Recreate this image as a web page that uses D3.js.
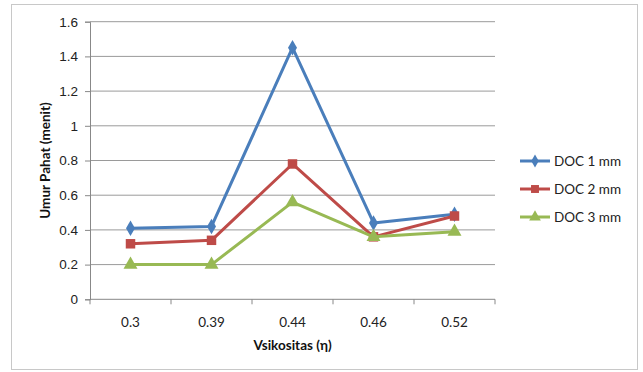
<!DOCTYPE html>
<html>
<head>
<meta charset="utf-8">
<script src="https://cdn.jsdelivr.net/npm/d3@7"></script>
<style>
  body { margin: 0; background: #fff; }
  svg { font-family: Lato, "Open Sans", sans-serif; }
</style>
</head>
<body>
<div id="chart"></div>
<script>
// viscosity categories and tool life per depth of cut
const categories = ["0.3", "0.39", "0.44", "0.46", "0.52"];
const doc1 = [0.41, 0.42, 1.45, 0.44, 0.49];
const doc2 = [0.32, 0.34, 0.78, 0.36, 0.48];
const doc3 = [0.20, 0.20, 0.56, 0.36, 0.39];
const seriesNames = ["DOC 1 mm", "DOC 2 mm", "DOC 3 mm"];
const yTicks = [0, 0.2, 0.4, 0.6, 0.8, 1, 1.2, 1.4, 1.6];

const series = [
  {name: seriesNames[0], values: doc1, color: "#4a7ebb", symbol: d3.symbolDiamond, size: 70},
  {name: seriesNames[1], values: doc2, color: "#be4b48", symbol: d3.symbolSquare, size: 90},
  {name: seriesNames[2], values: doc3, color: "#98b954", symbol: d3.symbolTriangle, size: 85}
];

const W = 643, H = 372;
const fs = 13.5;
const margin = {top: 21.7, left: 90, right: 148, bottom: 72.7};
const width = W - margin.left - margin.right;
const height = H - margin.top - margin.bottom;

const svg = d3.select("#chart").append("svg")
    .attr("width", W).attr("height", H);

// outer chart frame
svg.append("rect")
    .attr("x", 11.5).attr("y", 4.5)
    .attr("width", 626).attr("height", 365)
    .attr("fill", "#fff").attr("stroke", "#c8c8c8");

const g = svg.append("g")
    .attr("transform", "translate(" + margin.left + "," + margin.top + ")");

const x = d3.scaleBand().domain(categories).range([0, width]);
const y = d3.scaleLinear().domain([0, 1.6]).range([height, 0]);

// gridlines
g.append("g").selectAll("line")
  .data(yTicks.slice(1))
  .join("line")
    .attr("x1", 0).attr("x2", width)
    .attr("y1", d => y(d)).attr("y2", d => y(d))
    .attr("stroke", "#9a9a9a").attr("stroke-width", 1);

// y axis
const yAxis = g.append("g")
    .call(d3.axisLeft(y).tickValues(yTicks).tickSize(5).tickPadding(7).tickFormat(d3.format("")));
yAxis.select(".domain").attr("stroke", "#888");
yAxis.selectAll(".tick line").attr("stroke", "#888");
yAxis.selectAll("text").attr("font-size", fs).attr("fill", "#222").attr("font-family", null);

// x axis, ticks on category boundaries
const xAxisG = g.append("g").attr("transform", "translate(0," + height + ")");
xAxisG.append("line").attr("x1", 0).attr("x2", width).attr("stroke", "#888");
xAxisG.selectAll("line.tk")
  .data(categories.map(c => x(c)).concat([width]))
  .join("line").attr("class", "tk")
    .attr("x1", d => d).attr("x2", d => d)
    .attr("y1", 0).attr("y2", 5)
    .attr("stroke", "#888");
xAxisG.selectAll("text")
  .data(categories)
  .join("text")
    .attr("x", d => x(d) + x.bandwidth() / 2)
    .attr("y", 27.5)
    .attr("text-anchor", "middle")
    .attr("font-size", fs).attr("fill", "#222")
    .text(d => d);

// axis titles
svg.append("text")
    .attr("x", margin.left + width / 2).attr("y", 350)
    .attr("text-anchor", "middle")
    .attr("font-size", fs).attr("font-weight", "bold").attr("fill", "#111")
    .text("Vsikositas (η)");
svg.append("text")
    .attr("transform", "translate(50," + (margin.top + height / 2) + ") rotate(-90)")
    .attr("text-anchor", "middle")
    .attr("font-size", fs).attr("font-weight", "bold").attr("fill", "#111")
    .text("Umur Pahat (menit)");

// lines and markers
const line = d3.line()
    .x((d, i) => x(categories[i]) + x.bandwidth() / 2)
    .y(d => y(d));

series.forEach(function(s) {
  g.append("path")
      .datum(s.values)
      .attr("fill", "none")
      .attr("stroke", s.color)
      .attr("stroke-width", 3)
      .attr("stroke-linejoin", "round")
      .attr("d", line);
  g.append("g").selectAll("path")
    .data(s.values)
    .join("path")
      .attr("transform", (d, i) => "translate(" + (x(categories[i]) + x.bandwidth() / 2) + "," + y(d) + ")")
      .attr("d", d3.symbol().type(s.symbol).size(s.size))
      .attr("fill", s.color);
});

// legend
const legend = svg.append("g").attr("transform", "translate(520,161)");
series.forEach(function(s, i) {
  const row = legend.append("g").attr("transform", "translate(0," + (i * 28) + ")");
  row.append("line").attr("x1", 0).attr("x2", 30)
      .attr("stroke", s.color).attr("stroke-width", 3);
  row.append("path")
      .attr("transform", "translate(15,0)")
      .attr("d", d3.symbol().type(s.symbol).size(s.size * 0.7))
      .attr("fill", s.color);
  row.append("text")
      .attr("x", 34).attr("y", 5)
      .attr("font-size", fs).attr("fill", "#222")
      .text(s.name);
});
</script>
</body>
</html>
